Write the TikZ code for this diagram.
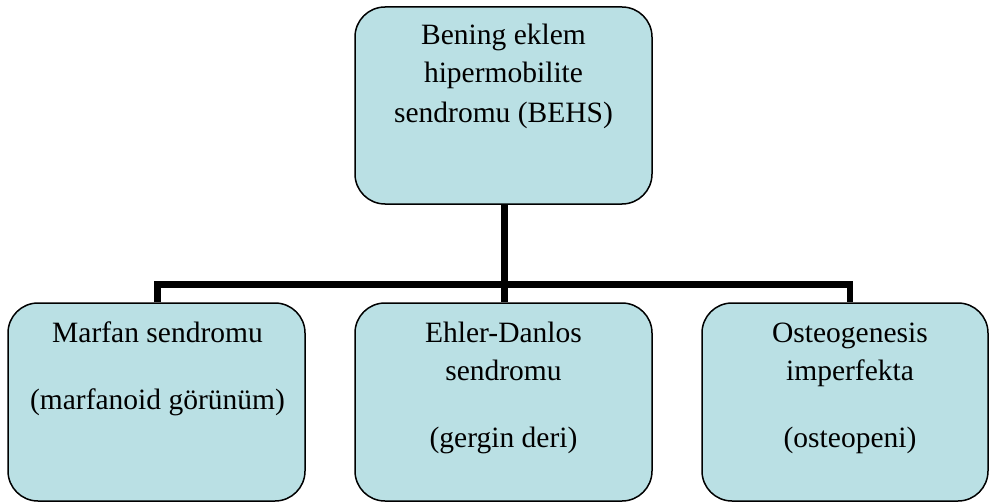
\documentclass[tikz,border=0pt]{standalone}
\usepackage{fontspec}
\setmainfont{Liberation Serif}
\definecolor{boxfill}{RGB}{186,224,228}
\begin{document}
\begin{tikzpicture}[x=1pt,y=-1pt,
  box/.style={draw=black, line width=1.5pt, fill=boxfill, rounded corners=30pt, inner sep=0pt},
  txt/.style={anchor=base, inner sep=0pt, font=\fontsize{29.5}{38}\selectfont},
  conn/.style={draw=black, line width=6.5pt}]
\useasboundingbox (0,0) rectangle (989,503);
% boxes
\node[box, minimum width=297pt, minimum height=197pt] (top) at (503.5,105.5) {};
\node[box, minimum width=297pt, minimum height=198pt] (left) at (156.5,402) {};
\node[box, minimum width=297pt, minimum height=198pt] (mid) at (503.5,402) {};
\node[box, minimum width=286pt, minimum height=198pt] (right) at (845,402) {};
% connectors
\coordinate (hub) at (504.5,284.5);
\draw[conn] ([xshift=1pt]top.south) -- (hub);
\draw[conn] ([xshift=1pt]left.north) |- (hub) -| ([xshift=5pt]right.north);
\draw[conn] (hub) -- (hub |- mid.north);
% texts
\node[txt] (ta) at (503.5,45) {Bening eklem};
\node[txt] (tb) at (503.5,83) {hipermobilite};
\node[txt] (tc) at (503.5,122) {sendromu (BEHS)};
\node[txt] (la) at (157.5,342) {Marfan sendromu};
\node[txt] (lb) at (157.5,409) {(marfanoid görünüm)};
\node[txt] (ma) at (503.5,342) {Ehler-Danlos};
\node[txt] (mb) at (503.5,380) {sendromu};
\node[txt] (mc) at (503.5,447) {(gergin deri)};
\node[txt] (ra) at (850,342) {Osteogenesis};
\node[txt] (rb) at (850,380) {imperfekta};
\node[txt] (rc) at (850,447) {(osteopeni)};
\end{tikzpicture}
\end{document}
